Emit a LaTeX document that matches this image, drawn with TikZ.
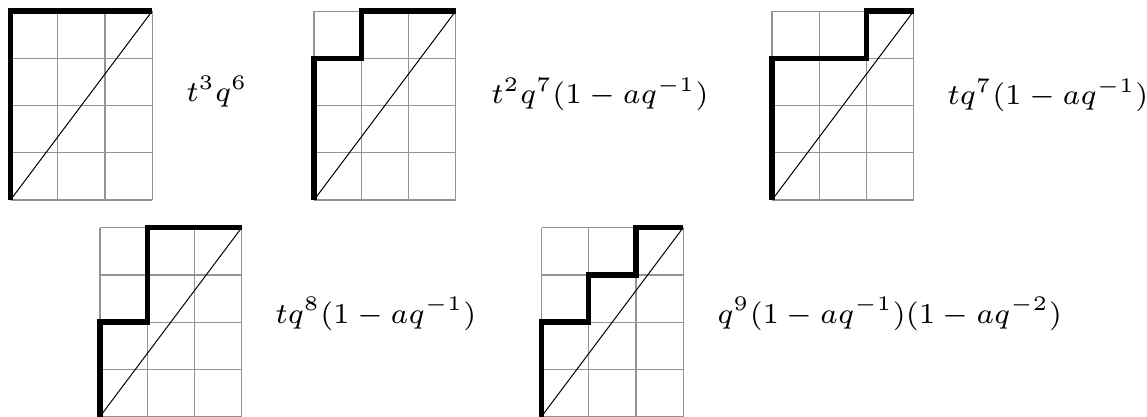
\documentclass[tikz,border=0pt]{standalone}
\tikzset{
  gridline/.style={draw=black!42, line width=0.6pt},
  diagline/.style={draw=black, line width=0.5pt},
  pathline/.style={draw=black, line width=2.7pt, line join=miter, line cap=butt},
  lbl/.style={anchor=base west, inner sep=0pt}
}
\newcommand{\lbltext}[1]{\scalebox{2.07}{\fontsize{7}{8}\selectfont$#1$}}
\newcommand{\dyckgrid}[2]{%
  \begin{scope}[shift={#1}, x=23.6pt, y=23.6pt]
    \foreach \i in {0,...,3} \draw[gridline] (\i,0) -- (\i,4);
    \foreach \j in {0,...,4} \draw[gridline] (0,\j) -- (3,\j);
    \draw[diagline] (0,0) -- (3,4);
    \draw[pathline] #2;
  \end{scope}}
\begin{document}
\begin{tikzpicture}[x=0.5pt, y=-0.5pt]
  \useasboundingbox (0,0) rectangle (1147,417);
  \dyckgrid{(10.5,200)}{(0,0) -- (0,4) -- (3,4)}
  \dyckgrid{(314,200)}{(0,0) -- (0,3) -- (1,3) -- (1,4) -- (3,4)}
  \dyckgrid{(772,200)}{(0,0) -- (0,3) -- (2,3) -- (2,4) -- (3,4)}
  \dyckgrid{(100,416.5)}{(0,0) -- (0,2) -- (1,2) -- (1,4) -- (3,4)}
  \dyckgrid{(541.5,416.5)}{(0,0) -- (0,2) -- (1,2) -- (1,3) -- (2,3) -- (2,4) -- (3,4)}
  \node[lbl] (l1) at (186,101.5) {\lbltext{t^3q^6}};
  \node[lbl] (l2) at (491,104) {\lbltext{t^2q^7(1-aq^{-1})}};
  \node[lbl] (l3) at (947,104.5) {\lbltext{tq^7(1-aq^{-1})}};
  \node[lbl] (l4) at (275,323.3) {\lbltext{tq^8(1-aq^{-1})}};
  \node[lbl] (l5) at (717,323) {\lbltext{q^9(1-aq^{-1})(1-aq^{-2})}};
\end{tikzpicture}
\end{document}
